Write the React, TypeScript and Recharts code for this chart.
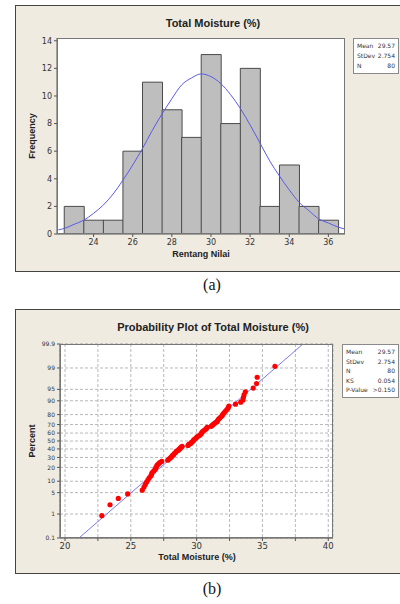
import React from "react";
import { ComposedChart, Bar, Line, Scatter, XAxis, YAxis, CartesianGrid } from "recharts";

// (a) histogram
const binCenters = [23, 24, 25, 26, 27, 28, 29, 30, 31, 32, 33, 34, 35, 36];
const binCounts = [2, 1, 1, 6, 11, 9, 7, 13, 8, 12, 2, 5, 2, 1];
const curveX = [22.2, 22.5, 23, 23.5, 24, 24.5, 25, 25.5, 26, 26.5, 27, 27.5, 28, 28.5, 29, 29.5, 30, 30.5, 31, 31.5, 32, 32.5, 33, 33.5, 34, 34.5, 35, 35.5, 36, 36.5, 36.85];
const curveY = [0.3, 0.4, 0.7, 1.0, 1.5, 2.1, 2.9, 3.9, 5.0, 6.2, 7.5, 8.7, 9.8, 10.8, 11.3, 11.6, 11.4, 10.9, 10.1, 9.1, 7.9, 6.6, 5.3, 4.2, 3.2, 2.3, 1.7, 1.1, 0.8, 0.5, 0.35];
const histXTicks = [24, 26, 28, 30, 32, 34, 36];
const histYTicks = [0, 2, 4, 6, 8, 10, 12, 14];
const statsA = [["Mean", "29.57"], ["StDev", "2.754"], ["N", "80"]];

// (b) probability plot, sorted values
const moisture = [
  22.8, 23.42, 24.05, 24.76,
  25.87, 26.0, 26.1, 26.2, 26.3, 26.4,
  26.52, 26.58, 26.62, 26.75, 26.85, 26.9, 26.95, 27.0, 27.1, 27.2, 27.35,
  27.8, 27.9, 28.0, 28.1, 28.15, 28.25, 28.3, 28.4, 28.45,
  28.6, 28.65, 28.75, 28.8, 28.9, 29.35, 29.4,
  29.55, 29.6, 29.7, 29.75, 29.8, 29.9, 30.0, 30.05, 30.2, 30.3, 30.35, 30.4, 30.45,
  30.55, 30.65, 30.75, 30.8, 31.1, 31.2, 31.3, 31.4,
  31.55, 31.6, 31.65, 31.75, 31.85, 31.95, 32.0, 32.1, 32.2, 32.3, 32.4, 32.45,
  32.95, 33.35,
  33.52, 33.55, 33.6, 33.7, 34.3,
  34.55, 34.6,
  35.95,
];
const probXTicks = [20, 22.5, 25, 27.5, 30, 32.5, 35, 37.5, 40];
const probPercentTicks = [0.1, 1, 5, 10, 20, 30, 40, 50, 60, 70, 80, 90, 95, 99, 99.9];
const fitLineX = [21.06, 38.08];
const fitLinePercent = [0.1, 99.9];
const statsB = [["Mean", "29.57"], ["StDev", "2.754"], ["N", "80"], ["KS", "0.054"], ["P-Value", ">0.150"]];

// inverse normal cdf (Acklam), used for the probability axis
function probit(p: number) {
  const a = [-39.69683028665376, 220.9460984245205, -275.9285104469687, 138.357751867269, -30.66479806614716, 2.506628277459239];
  const b = [-54.47609879822406, 161.5858368580409, -155.6989798598866, 66.80131188771972, -13.28068155288572];
  const c = [-0.007784894002430293, -0.3223964580411365, -2.400758277161838, -2.549732539343734, 4.374664141464968, 2.938163982698783];
  const d = [0.007784695709041462, 0.3224671290700398, 2.445134137142996, 3.754408661907416];
  const pl = 0.02425;
  if (p < pl) {
    const q = Math.sqrt(-2 * Math.log(p));
    return (((((c[0] * q + c[1]) * q + c[2]) * q + c[3]) * q + c[4]) * q + c[5]) / ((((d[0] * q + d[1]) * q + d[2]) * q + d[3]) * q + 1);
  }
  if (p > 1 - pl) {
    const q = Math.sqrt(-2 * Math.log(1 - p));
    return -(((((c[0] * q + c[1]) * q + c[2]) * q + c[3]) * q + c[4]) * q + c[5]) / ((((d[0] * q + d[1]) * q + d[2]) * q + d[3]) * q + 1);
  }
  const q = p - 0.5;
  const r = q * q;
  return ((((((a[0] * r + a[1]) * r + a[2]) * r + a[3]) * r + a[4]) * r + a[5]) * q) / (((((b[0] * r + b[1]) * r + b[2]) * r + b[3]) * r + b[4]) * r + 1);
}

const histData = binCenters.map((x, i) => ({ x, count: binCounts[i] }));
const curveData = curveX.map((x, i) => ({ x, y: curveY[i] }));
const n = moisture.length;
const probData = moisture.map((x, i) => ({ x, z: probit((i + 1 - 0.3) / (n + 0.4)) }));
const fitData = fitLineX.map((x, i) => ({ x, z: probit(fitLinePercent[i] / 100) }));
const zTicks = probPercentTicks.map((p) => probit(p / 100));

const panelBg = "#EFEBE1";
const tickStyle = { fontSize: 8, fill: "#333", fontFamily: "DejaVu Sans" };

function StatsBox({ rows, left, top, width, rowH }: { rows: string[][]; left: number; top: number; width: number; rowH: number }) {
  return (
    <div
      style={{
        position: "absolute",
        left,
        top,
        width,
        boxSizing: "border-box",
        background: "#fff",
        border: "1px solid #8a8a8a",
        padding: "2px 3px 2px 3px",
        fontFamily: "DejaVu Sans",
        fontSize: 6,
        color: "#333",
      }}
    >
      {rows.map(([k, v]) => (
        <div key={k} style={{ display: "flex", justifyContent: "space-between", height: rowH, lineHeight: rowH + "px" }}>
          <span>{k}</span>
          <span>{v}</span>
        </div>
      ))}
    </div>
  );
}

const boldLabel = { position: "absolute" as const, fontFamily: "Liberation Sans", fontWeight: 700, color: "#222" };

export default function App() {
  return (
    <div style={{ position: "absolute", left: 0, top: 0, width: 400, height: 604, background: "#fff", overflow: "hidden" }}>
      {/* panel (a) */}
      <div style={{ position: "absolute", left: 15, top: 5, width: 400, height: 265, background: panelBg, border: "1px solid #444" }} />
      <div style={{ ...boldLabel, left: 0, width: 426, top: 17, textAlign: "center", fontSize: 11 }}>Total Moisture (%)</div>
      <div style={{ position: "absolute", left: 0, top: 0 }}>
        <ComposedChart width={400} height={270} data={histData} barCategoryGap={0} margin={{ top: 38, right: 55, left: 27, bottom: 10 }}>
          <CartesianGrid horizontal={false} vertical={false} fill="#fff" />
          <XAxis
            xAxisId="bins"
            dataKey="x"
            type="number"
            domain={[22.13, 36.85]}
            allowDataOverflow
            ticks={histXTicks}
            interval={0}
            tickSize={3}
            height={26}
            stroke="#555"
            tick={tickStyle}
          />
          <XAxis xAxisId="curve" dataKey="x" type="number" domain={[22.13, 36.85]} allowDataOverflow hide />
          <YAxis
            type="number"
            domain={[0, 14.2]}
            allowDataOverflow
            ticks={histYTicks}
            interval={0}
            tickSize={3}
            width={30}
            stroke="#555"
            tick={tickStyle}
          />
          <Bar xAxisId="bins" dataKey="count" fill="#BEBEBE" stroke="#4a4a4a" strokeWidth={1} isAnimationActive={false} />
          <Line
            xAxisId="curve"
            data={curveData}
            dataKey="y"
            type="monotone"
            stroke="#5a5ae8"
            strokeWidth={1}
            dot={false}
            isAnimationActive={false}
          />
        </ComposedChart>
      </div>
      <div style={{ position: "absolute", left: 57, top: 38, width: 288, height: 196, border: "1px solid #777", boxSizing: "border-box" }} />
      <div style={{ ...boldLabel, left: 0, width: 402, top: 249, textAlign: "center", fontSize: 9 }}>Rentang Nilai</div>
      <div style={{ ...boldLabel, left: 32, top: 136, fontSize: 9, transform: "translate(-50%, -50%) rotate(-90deg)" }}>Frequency</div>
      <StatsBox rows={statsA} left={353} top={38} width={46} rowH={10} />
      <div style={{ position: "absolute", left: 0, width: 424, top: 276, textAlign: "center", fontFamily: "Liberation Serif", fontSize: 16, color: "#111" }}>(a)</div>

      {/* panel (b) */}
      <div style={{ position: "absolute", left: 15, top: 309, width: 400, height: 263, background: panelBg, border: "1px solid #444" }} />
      <div style={{ ...boldLabel, left: 0, width: 426, top: 321, textAlign: "center", fontSize: 11 }}>Probability Plot of Total Moisture (%)</div>
      <div style={{ position: "absolute", left: 0, top: 300 }}>
        <ComposedChart width={400} height={274} margin={{ top: 44, right: 67, left: 20, bottom: 16 }}>
          <CartesianGrid fill="#fff" stroke="#b8b8b8" strokeDasharray="3 2" />
          <XAxis
            dataKey="x"
            type="number"
            domain={[19.62, 40.36]}
            allowDataOverflow
            ticks={probXTicks}
            interval={0}
            tickSize={3}
            height={20}
            stroke="#555"
            tick={{ ...tickStyle, fontSize: 8.5 }}
            tickFormatter={(v: number) => (v % 5 === 0 ? String(v) : "")}
          />
          <YAxis
            dataKey="z"
            type="number"
            domain={[probit(0.001), probit(0.999)]}
            allowDataOverflow
            ticks={zTicks}
            interval={0}
            tickSize={3}
            width={40}
            stroke="#555"
            tick={{ ...tickStyle, fontSize: 6 }}
            tickFormatter={(v: number) => {
              const p = probPercentTicks.find((t) => Math.abs(probit(t / 100) - v) < 1e-6);
              return p === undefined ? "" : String(p);
            }}
          />
          <Line data={fitData} dataKey="z" type="linear" stroke="#7b7bf0" strokeWidth={1} dot={false} isAnimationActive={false} />
          <Scatter
            data={probData}
            fill="#ff0000"
            isAnimationActive={false}
            shape={(p: any) => <circle cx={p.cx} cy={p.cy} r={2.6} fill="#ff0000" />}
          />
        </ComposedChart>
      </div>
      <div style={{ position: "absolute", left: 60, top: 344, width: 273, height: 194, border: "1px solid #777", boxSizing: "border-box" }} />
      <div style={{ ...boldLabel, left: 0, width: 394, top: 552, textAlign: "center", fontSize: 9 }}>Total Moisture (%)</div>
      <div style={{ ...boldLabel, left: 32, top: 441, fontSize: 9, transform: "translate(-50%, -50%) rotate(-90deg)" }}>Percent</div>
      <StatsBox rows={statsB} left={342} top={344} width={57} rowH={9.6} />
      <div style={{ position: "absolute", left: 0, width: 424, top: 580, textAlign: "center", fontFamily: "Liberation Serif", fontSize: 16, color: "#111" }}>(b)</div>
    </div>
  );
}
